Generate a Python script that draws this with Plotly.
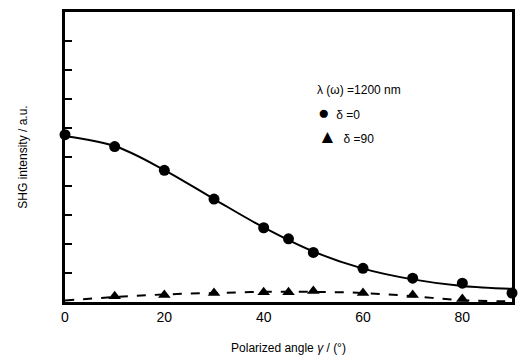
import plotly.graph_objects as go

# Data
angle_pts = [0, 10, 20, 30, 40, 45, 50, 60, 70, 80, 90]
shg_delta0 = [5.77, 5.36, 4.54, 3.55, 2.56, 2.18, 1.71, 1.16, 0.82, 0.65, 0.31]

angle_tri = [10, 20, 30, 40, 45, 50, 60, 70, 80]
shg_delta90 = [0.20, 0.24, 0.31, 0.34, 0.34, 0.38, 0.31, 0.24, 0.10]

fit_angle = [0, 10, 20, 30, 40, 50, 60, 70, 80, 90]
fit_delta0 = [5.72, 5.38, 4.55, 3.55, 2.57, 1.74, 1.15, 0.78, 0.55, 0.45]
fit_delta90 = [0.05, 0.17, 0.26, 0.31, 0.35, 0.35, 0.31, 0.20, 0.06, 0.02]

x_ticks = [0, 20, 40, 60, 80]
y_ticks = list(range(0, 11))

FONT = "Liberation Sans, Arial, sans-serif"

fig = go.Figure()
fig.add_trace(go.Scatter(x=fit_angle, y=fit_delta0, mode="lines",
                         line=dict(color="black", width=2, shape="spline", smoothing=1.0),
                         showlegend=False, hoverinfo="skip"))
fig.add_trace(go.Scatter(x=fit_angle, y=fit_delta90, mode="lines",
                         line=dict(color="black", width=2, dash="dash", shape="spline", smoothing=1.0),
                         showlegend=False, hoverinfo="skip"))
fig.add_trace(go.Scatter(x=angle_pts, y=shg_delta0, mode="markers",
                         marker=dict(symbol="circle", size=11, color="black"),
                         showlegend=False, cliponaxis=False))
fig.add_trace(go.Scatter(x=angle_tri, y=shg_delta90, mode="markers",
                         marker=dict(symbol="triangle-up", size=11, color="black"),
                         showlegend=False, cliponaxis=False))

sym = "<span style='font-size:19px'>{}</span>"

fig.update_layout(
    width=524, height=362,
    margin=dict(l=65, r=9, t=11, b=58),
    paper_bgcolor="white", plot_bgcolor="white",
    font=dict(family=FONT, color="black", size=13),
    xaxis=dict(range=[0, 90], tickvals=x_ticks, ticktext=[str(v) for v in x_ticks],
               showline=True, linewidth=3, linecolor="black", mirror=True,
               ticks="", showgrid=False, zeroline=False,
               tickfont=dict(size=14, family=FONT),
               title=dict(text="Polarized angle <i>γ</i> / (°)", font=dict(size=12), standoff=20)),
    yaxis=dict(range=[0, 10], tickvals=y_ticks, showticklabels=False,
               showline=True, linewidth=3, linecolor="black", mirror=True,
               ticks="inside", ticklen=7, tickwidth=2, tickcolor="black",
               showgrid=False, zeroline=False,
               title=dict(text="SHG intensity / a.u.", font=dict(size=12), standoff=32)),
    annotations=[
        dict(xref="paper", yref="paper", x=(317 - 65) / 450, y=(304 - 90) / 293,
             xanchor="left", yanchor="middle", showarrow=False,
             text="λ (ω) =1200 nm", font=dict(size=12, family=FONT)),
        dict(xref="paper", yref="paper", x=(318 - 65) / 450, y=(304 - 113) / 293,
             xanchor="left", yanchor="middle", showarrow=False,
             text=sym.format("●") + "  δ =0", font=dict(size=12, family=FONT)),
        dict(xref="paper", yref="paper", x=(318 - 65) / 450, y=(304 - 137) / 293,
             xanchor="left", yanchor="middle", showarrow=False,
             text=sym.format("▲") + "  δ =90", font=dict(size=12, family=FONT)),
    ],
)

fig.write_html("out.html")
